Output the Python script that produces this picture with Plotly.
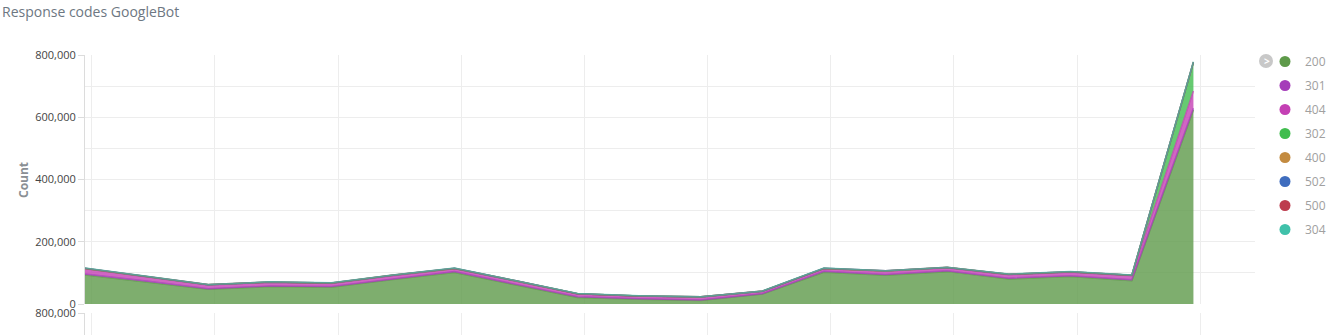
import plotly.graph_objects as go

# ---- data (counts) ----
x_idx = list(range(19))
codes = ["200", "301", "404", "302", "400", "502", "500", "304"]
s200 = [93000, 71000, 47000, 56000, 54000, 79000, 101000, 61000, 21000, 15000, 11000, 32000, 102000, 92000, 104000, 80000, 88000, 75000, 623000]
s301 = [3000, 3000, 2000, 2000, 2000, 2000, 3000, 2000, 2000, 2000, 2000, 1000, 3000, 3000, 3000, 3000, 3000, 3000, 6000]
s404 = [17000, 13000, 12000, 11000, 10000, 10000, 9000, 10000, 9000, 8000, 9000, 7000, 8000, 10000, 9000, 11000, 11000, 13000, 55000]
s302 = [1000, 1000, 900, 1000, 1000, 1100, 1000, 900, 800, 700, 800, 900, 1000, 1000, 1100, 1000, 1000, 1000, 92000]
s400 = [300, 300, 200, 300, 300, 300, 400, 300, 200, 200, 200, 200, 300, 300, 300, 300, 300, 300, 600]
s502 = [200, 200, 100, 200, 200, 200, 200, 200, 100, 100, 100, 100, 200, 200, 200, 200, 200, 200, 400]
s500 = [300, 200, 200, 200, 200, 300, 300, 200, 100, 100, 100, 200, 300, 300, 300, 200, 300, 200, 500]
s304 = [500, 400, 300, 400, 400, 500, 500, 400, 200, 200, 200, 300, 500, 400, 500, 400, 400, 400, 900]
series = [s200, s301, s404, s302, s400, s502, s500, s304]
y_tick_vals = [0, 200000, 400000, 600000, 800000]
y_tick_text = ["0", "200,000", "400,000", "600,000", "800,000"]
x_grid_vals = [0.11 + 2 * k for k in range(10)]

colors = ["#5e9a4a", "#a53db9", "#c440b4", "#40bd4e", "#c38b40", "#3f6dbe", "#bd3c4e", "#40c1aa"]


def rgba(h, a):
    h = h.lstrip("#")
    r, g, b = int(h[0:2], 16), int(h[2:4], 16), int(h[4:6], 16)
    return f"rgba({r},{g},{b},{a})"


fig = go.Figure()
for name, vals, c in zip(codes, series, colors):
    fig.add_trace(go.Scatter(
        x=x_idx, y=vals, name=name, mode="lines", stackgroup="one",
        line=dict(color=rgba(c, 0.7), width=1.5),
        fillcolor=rgba(c, 0.8), showlegend=False, hoverinfo="skip",
    ))
for i, (name, c) in enumerate(zip(codes, colors)):
    fig.add_trace(go.Scatter(
        x=[None], y=[None], name=name, mode="markers",
        marker=dict(color=c, size=11, symbol="circle"),
        legendgroup=f"g{i}", showlegend=True,
    ))
# lower (cut-off) chart panel
fig.add_trace(go.Scatter(x=[None], y=[None], xaxis="x2", yaxis="y2",
                         showlegend=False, hoverinfo="skip"))

W, H = 1335, 335
L, R = 85, 80
PW = W - L - R
grid = "#ededed"
axis_line = "#dcdcdc"

fig.update_layout(
    width=W, height=H,
    margin=dict(l=L, r=R, t=0, b=0, autoexpand=False),
    paper_bgcolor="white", plot_bgcolor="white",
    font=dict(family="Open Sans", size=11, color="#444"),
    title=dict(text="Response codes GoogleBot", x=2 / W, xanchor="left",
               xref="container", yref="container", y=1 - 12 / H, yanchor="middle",
               font=dict(family="Open Sans", size=14, color="#6d7782")),
    showlegend=True,
    legend=dict(x=(1265 - L) / PW, xanchor="left", y=1 - 47 / H, yanchor="top",
                font=dict(family="Open Sans", size=12, color="#a0a0a0"),
                tracegroupgap=5, bgcolor="rgba(0,0,0,0)", itemclick=False),
    xaxis=dict(domain=[0, 1], range=[0, 19], anchor="y", tickvals=x_grid_vals,
               showticklabels=False, showgrid=True, gridcolor=grid, zeroline=False,
               showline=False, ticks=""),
    yaxis=dict(domain=[1 - 304 / H, 1 - 55 / H], range=[0, 800000], anchor="x",
               tickvals=y_tick_vals, ticktext=y_tick_text, showgrid=True, gridcolor=grid,
               minor=dict(dtick=100000, showgrid=True, gridcolor=grid, ticks=""),
               zeroline=False, showline=True, linecolor=axis_line, linewidth=1,
               ticks="outside", ticklen=6, tickcolor=axis_line,
               tickfont=dict(size=11, color="#444")),
    xaxis2=dict(domain=[0, 1], range=[0, 19], anchor="y2", tickvals=x_grid_vals,
                showticklabels=False, showgrid=True, gridcolor=grid, zeroline=False,
                showline=False, ticks=""),
    yaxis2=dict(domain=[0, 1 - 313 / H], range=[700000, 800000], anchor="x2",
                tickvals=[800000], ticktext=["800,000"], showgrid=True, gridcolor=grid,
                zeroline=False, showline=True, linecolor=axis_line, linewidth=1,
                ticks="outside", ticklen=6, tickcolor=axis_line,
                tickfont=dict(size=11, color="#444")),
)

fig.add_annotation(text="<b>Count</b>", textangle=-90, xref="paper", yref="paper",
                   x=(23 - L) / PW, y=1 - 180 / H, xanchor="center", yanchor="middle",
                   showarrow=False,
                   font=dict(family="Open Sans", size=12, color="#8a8f94"))

# collapse-legend chevron icon
cx = (1266 - L) / PW
cy = 1 - 61 / H
fig.add_shape(type="circle", xref="paper", yref="paper", xsizemode="pixel", ysizemode="pixel",
              xanchor=cx, yanchor=cy, x0=-7, x1=7, y0=-7, y1=7,
              fillcolor="#c8c8c8", line=dict(width=0), layer="below")
fig.add_annotation(text="<b>&gt;</b>", xref="paper", yref="paper", x=cx + 0.5 / PW, y=cy,
                   xanchor="center", yanchor="middle", showarrow=False,
                   font=dict(family="Open Sans", size=10, color="white"))

fig.write_html("out.html")
